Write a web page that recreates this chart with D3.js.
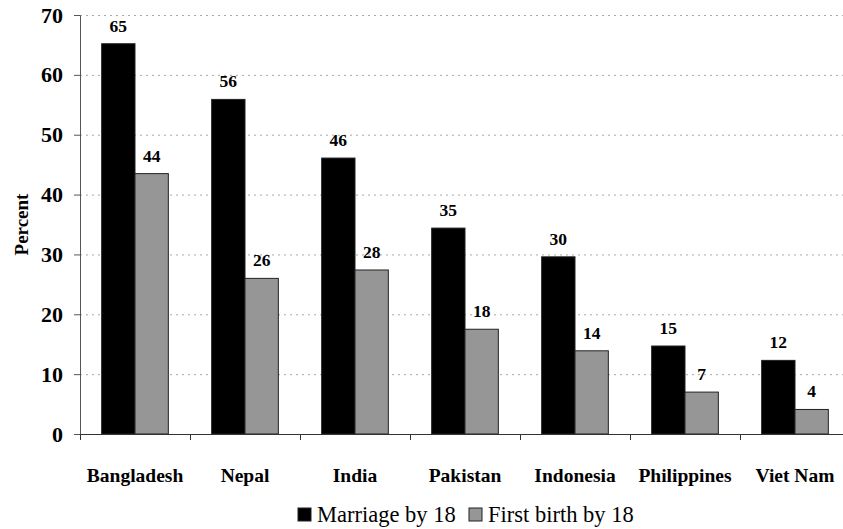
<!DOCTYPE html>
<html>
<head>
<meta charset="utf-8">
<script src="https://cdn.jsdelivr.net/npm/d3@7"></script>
<style>
  html, body { margin: 0; padding: 0; background: #fff; }
  svg text { font-family: "Liberation Serif", "Times New Roman", Times, "DejaVu Serif", serif !important; }
</style>
</head>
<body>
<svg id="chart" width="843" height="529"></svg>
<script>
const categories = ["Bangladesh", "Nepal", "India", "Pakistan", "Indonesia", "Philippines", "Viet Nam"];
const seriesNames = ["Marriage by 18", "First birth by 18"];
const marriageBy18 = [65.2, 55.9, 46.1, 34.4, 29.6, 14.7, 12.3];
const firstBirthBy18 = [43.5, 26.0, 27.4, 17.5, 13.9, 7.0, 4.1];
const marriageLabels = ["65", "56", "46", "35", "30", "15", "12"];
const firstBirthLabels = ["44", "26", "28", "18", "14", "7", "4"];
const yTicks = [0, 10, 20, 30, 40, 50, 60, 70];
const seriesColors = ["#000000", "#969696"];

const svg = d3.select("#chart");
const mLeft = 80, mRight = 850, mTop = 15, mBottom = 434;

const x0 = d3.scaleBand().domain(categories).range([mLeft, mRight]).paddingInner(0).paddingOuter(0);
const x1 = d3.scaleBand().domain(seriesNames).range([0, x0.bandwidth()]).paddingInner(0).paddingOuter(0.65);
const y = d3.scaleLinear().domain([0, 70]).range([mBottom, mTop]);

// gridlines
svg.append("g")
  .selectAll("line")
  .data(yTicks.filter(t => t > 0))
  .join("line")
  .attr("x1", mLeft).attr("x2", 843)
  .attr("y1", d => y(d) + 0.5).attr("y2", d => y(d) + 0.5)
  .attr("stroke", "#a8a8a8")
  .attr("stroke-width", 1)
  .attr("stroke-dasharray", "2,4");

const data = categories.map((c, i) => ({
  cat: c,
  vals: [
    { s: seriesNames[0], v: marriageBy18[i], lab: marriageLabels[i] },
    { s: seriesNames[1], v: firstBirthBy18[i], lab: firstBirthLabels[i] }
  ]
}));

const groups = svg.append("g").selectAll("g")
  .data(data).join("g")
  .attr("transform", d => `translate(${x0(d.cat)},0)`);

groups.selectAll("rect")
  .data(d => d.vals).join("rect")
  .attr("x", d => x1(d.s))
  .attr("y", d => y(d.v))
  .attr("width", x1.bandwidth())
  .attr("height", d => y(0) - y(d.v))
  .attr("fill", (d, i) => seriesColors[i])
  .attr("stroke", "#222")
  .attr("stroke-width", 1);

groups.selectAll("text")
  .data(d => d.vals).join("text")
  .attr("x", d => x1(d.s) + x1.bandwidth() / 2)
  .attr("y", d => y(d.v) - 12)
  .attr("text-anchor", "middle")
  .attr("font-weight", "bold")
  .attr("font-size", "17.5px")
  .attr("fill", "#000")
  .text(d => d.lab);

// y axis
const yAxis = svg.append("g")
  .attr("transform", `translate(${mLeft},0)`)
  .call(d3.axisLeft(y).tickValues(yTicks).tickSize(6).tickPadding(11).tickFormat(d3.format("d")));
yAxis.select(".domain").attr("stroke", "#555");
yAxis.selectAll(".tick line").attr("stroke", "#555");
yAxis.selectAll(".tick text")
  .attr("font-size", "22px").attr("font-weight", "bold").attr("fill", "#000");

// x axis
const xAxis = svg.append("g")
  .attr("transform", `translate(0,${mBottom})`)
  .call(d3.axisBottom(x0).tickSize(0).tickPadding(34));
xAxis.select(".domain").attr("stroke", "#333");
xAxis.selectAll(".tick text")
  .attr("font-size", "19.5px").attr("font-weight", "bold").attr("fill", "#000");
// category boundary ticks
svg.append("g").selectAll("line")
  .data(categories).join("line")
  .attr("x1", d => x0(d) + 0.5).attr("x2", d => x0(d) + 0.5)
  .attr("y1", mBottom).attr("y2", mBottom + 6)
  .attr("stroke", "#333");

// y axis title
svg.append("text")
  .attr("transform", `translate(28,${(mTop + mBottom) / 2}) rotate(-90)`)
  .attr("text-anchor", "middle")
  .attr("font-weight", "bold")
  .attr("font-size", "19px")
  .text("Percent");

// legend
const legend = svg.append("g");
const legendItems = [
  { name: seriesNames[0], color: seriesColors[0], x: 298 },
  { name: seriesNames[1], color: seriesColors[1], x: 469 }
];
const lg = legend.selectAll("g").data(legendItems).join("g")
  .attr("transform", d => `translate(${d.x},508)`);
lg.append("rect")
  .attr("width", 13).attr("height", 13)
  .attr("fill", d => d.color).attr("stroke", "#222").attr("stroke-width", 1);
lg.append("text")
  .attr("x", 19).attr("y", 14)
  .attr("font-size", "22.5px")
  .attr("fill", "#000")
  .text(d => d.name);
</script>
</body>
</html>
